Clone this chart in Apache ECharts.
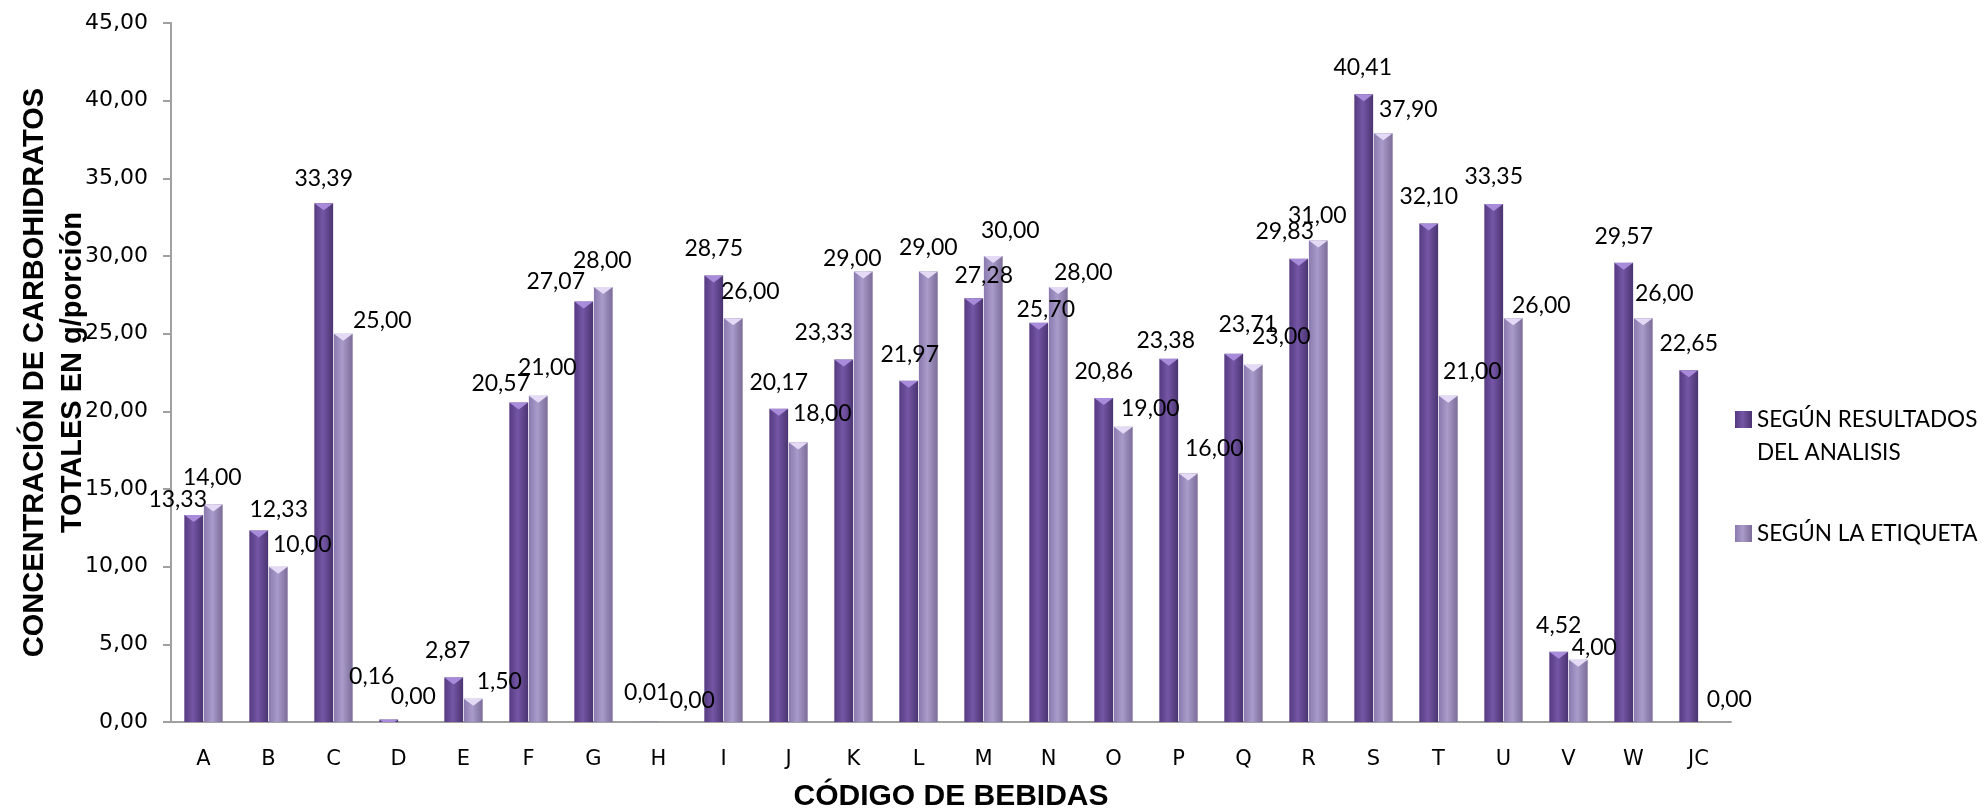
<!DOCTYPE html>
<html>
<head>
<meta charset="utf-8">
<title>Concentración de carbohidratos totales</title>
<script src="https://cdn.jsdelivr.net/npm/echarts@6/dist/echarts.min.js"></script>
<style>
  html, body { margin: 0; padding: 0; background: #ffffff; }
  #chart { width: 1986px; height: 811px; }
</style>
</head>
<body>
<div id="chart"></div>
<script>
// Beverage codes
const categories = ['A', 'B', 'C', 'D', 'E', 'F', 'G', 'H', 'I', 'J', 'K', 'L',
  'M', 'N', 'O', 'P', 'Q', 'R', 'S', 'T', 'U', 'V', 'W', 'JC'];

// Total carbohydrates, g per serving, measured in the laboratory
const analysisValues = [13.33, 12.33, 33.39, 0.16, 2.87, 20.57, 27.07, 0.01, 28.75, 20.17,
  23.33, 21.97, 27.28, 25.70, 20.86, 23.38, 23.71, 29.83, 40.41, 32.10, 33.35, 4.52, 29.57, 22.65];

// Total carbohydrates, g per serving, as declared on the label
const labelValues = [14.00, 10.00, 25.00, 0.00, 1.50, 21.00, 28.00, 0.00, 26.00, 18.00,
  29.00, 29.00, 30.00, 28.00, 19.00, 16.00, 23.00, 31.00, 37.90, 21.00, 26.00, 4.00, 26.00, 0.00];

const seriesNames = ['SEGÚN RESULTADOS\nDEL ANALISIS', 'SEGÚN LA ETIQUETA'];

// Nudges [dx, dy] for the value labels so neighbouring labels do not collide
const analysisLabelNudge = [[-16, -16], [20, -21], [0, -25], [-17, -43], [-6, -27], [-18, -19],
  [-28, -20], [-2, -30], [0, -27], [0, -27], [-20, -28], [1, -27], [10, -23], [7, -14], [0, -27],
  [-3, -19], [14, -30], [-14, -28], [-1, -27], [0, -27], [0, -28], [0, -27], [0, -27], [0, -27]];
const labelLabelNudge = [[-1, -27], [24, -23], [39, -14], [5, -26], [26, -18], [9, -29],
  [-1, -27], [24, -22], [17, -27], [24, -29], [-11, -13], [0, -24], [17, -26], [25, -15], [27, -19],
  [26, -25], [28, -29], [-1, -25], [25, -24], [24, -25], [28, -13], [16, -13], [21, -25], [21, -23]];

const fmt = v => v.toFixed(2).replace('.', ',');

const LABEL_HALF = 12;
function withLabels(values, nudges) {
  return values.map((v, i) => ({
    value: v,
    label: { offset: [nudges[i][0], nudges[i][1] + LABEL_HALF] }
  }));
}

function columnGradient(edgeL, mid, edgeR) {
  return new echarts.graphic.LinearGradient(0, 0, 1, 0, [
    { offset: 0, color: edgeL },
    { offset: 0.45, color: mid },
    { offset: 1, color: edgeR }
  ]);
}

const darkFill = columnGradient('#553a80', '#7556a6', '#4a3470');
const lightFill = columnGradient('#8a7aae', '#a99bca', '#7b6c99');

const CATEGORY_GAP = '41%';
const BAR_GAP = '4%';

const valueLabel = {
  show: true,
  position: 'top',
  distance: 0,
  fontFamily: 'Lato, "Open Sans", sans-serif',
  fontSize: 23,
  color: '#000000',
  formatter: p => fmt(p.value)
};

function bevel(values, color) {
  return {
    type: 'pictorialBar',
    data: values,
    barCategoryGap: CATEGORY_GAP,
    barGap: BAR_GAP,
    symbol: 'path://M0,0 L20,0 L10,7 Z',
    symbolSize: ['100%', 7],
    symbolPosition: 'end',
    symbolClip: true,
    itemStyle: { color: color },
    silent: true,
    z: 5,
    legendHoverLink: false,
    tooltip: { show: false }
  };
}

const option = {
  animation: false,
  backgroundColor: '#ffffff',
  grid: {
    left: 171, right: 255, top: 23, bottom: 89,
    containLabel: false,
    outerBoundsMode: 'none'
  },
  legend: {
    orient: 'vertical',
    left: 1735,
    top: 370,
    padding: 0,
    itemWidth: 17,
    itemHeight: 17,
    itemGap: 48,
    // a leading blank line keeps the marker level with the first text line
    formatter: name => (name.indexOf('\n') >= 0 ? ' \n' + name : name),
    textStyle: {
      fontFamily: 'Lato, "Open Sans", sans-serif',
      fontSize: 22.5,
      lineHeight: 33,
      color: '#000000'
    },
    data: [
      { name: seriesNames[0], icon: 'rect' },
      { name: seriesNames[1], icon: 'rect' }
    ]
  },
  xAxis: {
    type: 'category',
    data: categories,
    name: 'CÓDIGO DE BEBIDAS',
    nameLocation: 'middle',
    nameGap: 60,
    nameMoveOverlap: false,
    nameTextStyle: {
      fontFamily: '"Liberation Sans", Arial, sans-serif',
      fontWeight: 'bold',
      fontSize: 30,
      color: '#000000'
    },
    axisLine: { show: true, lineStyle: { color: '#a0a0a0', width: 2 } },
    axisTick: { show: false },
    axisLabel: {
      margin: 27,
      fontFamily: '"DejaVu Sans", Verdana, sans-serif',
      fontSize: 21,
      color: '#000000'
    },
    splitLine: { show: false }
  },
  yAxis: {
    type: 'value',
    min: 0,
    max: 45,
    interval: 5,
    name: 'CONCENTRACIÓN DE CARBOHIDRATOS\nTOTALES EN g/porción',
    nameLocation: 'middle',
    nameGap: 79,
    nameMoveOverlap: false,
    nameTextStyle: {
      fontFamily: '"Liberation Sans", Arial, sans-serif',
      fontWeight: 'bold',
      fontSize: 29,
      lineHeight: 38,
      color: '#000000'
    },
    axisLine: { show: true, lineStyle: { color: '#a0a0a0', width: 2 } },
    axisTick: { show: true, inside: false, length: 8, lineStyle: { color: '#a0a0a0', width: 2 } },
    axisLabel: {
      margin: 23,
      fontFamily: '"DejaVu Sans", Verdana, sans-serif',
      fontSize: 22,
      color: '#000000',
      formatter: v => fmt(v)
    },
    splitLine: { show: false }
  },
  series: [
    {
      name: seriesNames[0],
      type: 'bar',
      data: withLabels(analysisValues, analysisLabelNudge),
      barCategoryGap: CATEGORY_GAP,
      barGap: BAR_GAP,
      itemStyle: { color: darkFill },
      label: valueLabel,
      z: 3
    },
    {
      name: seriesNames[1],
      type: 'bar',
      data: withLabels(labelValues, labelLabelNudge),
      barCategoryGap: CATEGORY_GAP,
      barGap: BAR_GAP,
      itemStyle: { color: lightFill },
      label: valueLabel,
      z: 3
    },
    bevel(analysisValues, '#a98bdb'),
    bevel(labelValues, '#e4daf6')
  ]
};

const chart = echarts.init(document.getElementById('chart'), null, { renderer: 'canvas' });
chart.setOption(option);
</script>
</body>
</html>
